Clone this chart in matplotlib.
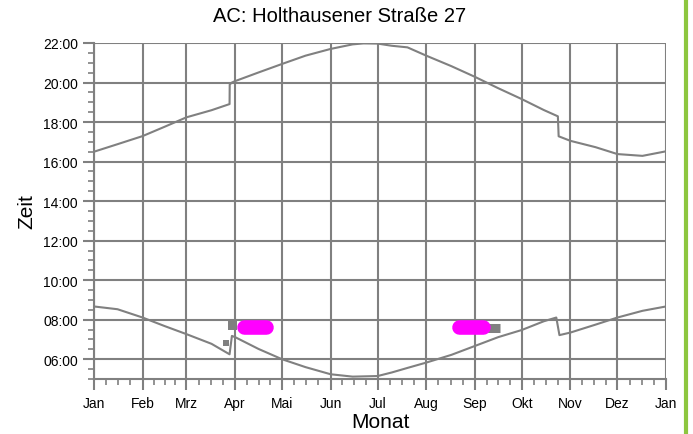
import matplotlib
matplotlib.use("Agg")
import matplotlib.pyplot as plt
from matplotlib.lines import Line2D
from matplotlib.ticker import FixedLocator, MultipleLocator, FuncFormatter

# ---- data ----
month_labels = ["Jan", "Feb", "Mrz", "Apr", "Mai", "Jun", "Jul", "Aug", "Sep", "Okt", "Nov", "Dez", "Jan"]
month_starts = [0, 31, 59, 90, 120, 151, 181, 212, 243, 273, 304, 334, 365]

sunset_days = [0, 15, 31, 45, 59, 75, 86.5, 86.6, 88, 90, 105, 120, 135, 151, 165, 172, 181, 190, 200,
               212, 228, 243, 258, 273, 287, 296, 296.5, 304, 320, 334, 350, 365]
sunset_hours = [16.50, 16.88, 17.29, 17.76, 18.24, 18.60, 18.91, 19.90, 20.00, 20.07, 20.51, 20.94, 21.36,
                21.70, 21.93, 21.98, 21.97, 21.86, 21.78, 21.36, 20.83, 20.29, 19.71, 19.16, 18.61,
                18.29, 17.28, 17.05, 16.73, 16.38, 16.29, 16.52]

sunrise_days = [0, 15, 31, 45, 59, 75, 86.5, 88, 90, 105, 120, 135, 151, 165, 181, 190, 200, 212, 228,
                243, 258, 273, 287, 295, 297, 304, 320, 334, 350, 365]
sunrise_hours = [8.67, 8.53, 8.11, 7.68, 7.27, 6.78, 6.25, 7.18, 7.12, 6.52, 6.00, 5.60, 5.24, 5.12,
                 5.15, 5.33, 5.56, 5.83, 6.22, 6.67, 7.12, 7.48, 7.92, 8.11, 7.22, 7.35, 7.75, 8.11,
                 8.45, 8.67]

magenta_apr_days = [96, 110]
magenta_apr_hours = [7.62, 7.62]
magenta_sep_days = [233, 248]
magenta_sep_hours = [7.62, 7.62]
gray_sep_days = [248, 259]
gray_sep_hours = [7.6, 7.6]
gray_pt_days = [88, 84.5]
gray_pt_hours = [7.75, 6.8]
gray_pt_sizes = [9, 6]

title = "AC: Holthausener Straße 27"

# ---- plot ----
plt.rcParams['font.family'] = ['Liberation Sans', 'DejaVu Sans']
GRAY = "#808080"

fig = plt.figure(figsize=(6.93, 4.35), dpi=100)
ax = fig.add_axes([94/693, 1-380/435, (666-94)/693, (380-44)/435])

ax.set_xlim(0, 365)
ax.set_ylim(5, 22)

ax.plot(sunset_days, sunset_hours, color=GRAY, lw=1.5, zorder=3)
ax.plot(sunrise_days, sunrise_hours, color=GRAY, lw=1.5, zorder=3)

ax.plot(gray_sep_days, gray_sep_hours, color=GRAY, lw=6.5, solid_capstyle='butt', zorder=4)
for d, h, s in zip(gray_pt_days, gray_pt_hours, gray_pt_sizes):
    ax.plot([d], [h], marker='s', color=GRAY, ms=s*0.72, mew=0, zorder=4)
ax.plot(magenta_apr_days, magenta_apr_hours, color="#ff00ff", lw=10.5, solid_capstyle='round', zorder=5)
ax.plot(magenta_sep_days, magenta_sep_hours, color="#ff00ff", lw=10.5, solid_capstyle='round', zorder=5)

# ticks
ax.xaxis.set_major_locator(FixedLocator(month_starts))
ax.set_xticklabels(month_labels)
minor_x = []
for a, b in zip(month_starts[:-1], month_starts[1:]):
    for k in (1, 2, 3):
        minor_x.append(a + (b - a) * k / 4)
ax.xaxis.set_minor_locator(FixedLocator(minor_x))
ax.yaxis.set_major_locator(FixedLocator([6, 8, 10, 12, 14, 16, 18, 20, 22]))
ax.yaxis.set_minor_locator(MultipleLocator(0.5))
ax.yaxis.set_major_formatter(FuncFormatter(lambda v, p: "%02d:00" % int(round(v))))

ax.tick_params(axis='both', which='major', direction='out', length=8, width=1.5, color=GRAY,
               labelsize=10, labelcolor='black')
ax.tick_params(axis='both', which='minor', direction='out', length=4.5, width=1.2, color=GRAY)
ax.tick_params(axis='x', pad=4)

ax.grid(True, which='major', color=GRAY, lw=1.5)
ax.set_axisbelow(True)
for side in ('top', 'right'):
    ax.spines[side].set_visible(False)
for side in ('left', 'bottom'):
    ax.spines[side].set_color(GRAY)
    ax.spines[side].set_linewidth(1.5)

fig.text(339.5/693, 1-17/435, title, fontsize=14.5, ha='center', va='center')
ax.set_xlabel("Monat", fontsize=15, labelpad=2)
ax.set_ylabel("Zeit", fontsize=15, labelpad=5)

fig.add_artist(Line2D([685.5/693, 685.5/693], [0, 1], transform=fig.transFigure, color="#8dc63f", lw=3))

fig.savefig("out.png", dpi=100)
